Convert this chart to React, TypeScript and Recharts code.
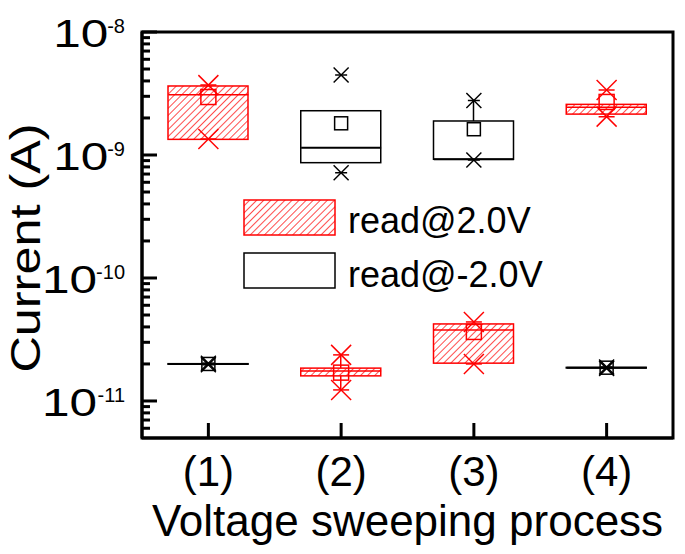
import React from 'react';
import { ComposedChart, Bar, Scatter, XAxis, YAxis, Legend, Label, ReferenceArea } from 'recharts';

const categories = ['(1)', '(2)', '(3)', '(4)'];

// read@2.0V (red, hatched)
const posQ1 = [1.34e-9, 1.6e-11, 2.03e-11, 2.15e-9];
const posQ3 = [3.64e-9, 1.85e-11, 4.23e-11, 2.58e-9];
const posMedian = [3.09e-9, 1.75e-11, 3.78e-11, 2.45e-9];
const posMean = [2.96e-9, 1.7e-11, 3.64e-11, 2.7e-9];
const posMin = [1.35e-9, 1.23e-11, 2.0e-11, 2.05e-9];
const posMax = [3.7e-9, 2.37e-11, 4.39e-11, 3.38e-9];
const posWhiskLow = [1.34e-9, 1.23e-11, 2.03e-11, 2.15e-9];
const posWhiskHigh = [3.64e-9, 2.37e-11, 4.23e-11, 2.58e-9];

// read@-2.0V (black, open)
const negQ1 = [1.99e-11, 8.66e-10, 9.23e-10, 1.855e-11];
const negQ3 = [2.01e-11, 2.29e-9, 1.89e-9, 1.875e-11];
const negMedian = [2.0e-11, 1.146e-9, 9.23e-10, 1.865e-11];
const negMean = [2.0e-11, 1.81e-9, 1.62e-9, 1.865e-11];
const negMin = [1.97e-11, 7.18e-10, 9.1e-10, 1.84e-11];
const negMax = [2.03e-11, 4.47e-9, 2.77e-9, 1.89e-11];
const negWhiskLow = [1.99e-11, 8.66e-10, 9.23e-10, 1.855e-11];
const negWhiskHigh = [2.01e-11, 2.29e-9, 2.77e-9, 1.875e-11];

const majorTicks = [1e-11, 1e-10, 1e-9, 1e-8];
const majorTickExponents = ['-11', '-10', '-9', '-8'];
const minorTicks = [
  6e-12, 7e-12, 8e-12, 9e-12,
  2e-11, 3e-11, 4e-11, 5e-11, 6e-11, 7e-11, 8e-11, 9e-11,
  2e-10, 3e-10, 4e-10, 5e-10, 6e-10, 7e-10, 8e-10, 9e-10,
  2e-9, 3e-9, 4e-9, 5e-9, 6e-9, 7e-9, 8e-9, 9e-9,
];
const yDomain = [5e-12, 1e-8];

const seriesNames = ['read@2.0V', 'read@-2.0V'];

const data = categories.map((cat, i) => ({
  cat,
  posBox: [posQ1[i], posQ3[i]],
  posWLo: [posWhiskLow[i], posQ1[i]],
  posWHi: [posQ3[i], posWhiskHigh[i]],
  posMedian: posMedian[i],
  posMean: posMean[i],
  posMin: posMin[i],
  posMax: posMax[i],
  negBox: [negQ1[i], negQ3[i]],
  negWLo: [negWhiskLow[i], negQ1[i]],
  negWHi: [negQ3[i], negWhiskHigh[i]],
  negMedian: negMedian[i],
  negMean: negMean[i],
  negMin: negMin[i],
  negMax: negMax[i],
}));

const RED = '#ff0000';
const BLACK = '#000000';
const FONT = '"Liberation Sans", Arial, Helvetica, sans-serif';
const BOX_HALF = 40;

const RedBox = (p: any) => (
  <rect x={p.x} y={p.y} width={p.width} height={Math.max(p.height, 0)} fill="url(#hatchRed)" stroke={RED} strokeWidth={1.5} />
);
const BlackBox = (p: any) => (
  <rect x={p.x} y={p.y} width={p.width} height={Math.max(p.height, 0)} fill="#fff" stroke={BLACK} strokeWidth={1.5} />
);
const whisker = (color: string) => (p: any) => {
  if (!p.height || Math.abs(p.height) < 0.5) return <g />;
  const cx = p.x + p.width / 2;
  return <line x1={cx} x2={cx} y1={p.y} y2={p.y + p.height} stroke={color} strokeWidth={1.5} />;
};
const medianShape = (color: string, w: number) => (p: any) => (
  <line x1={p.cx - BOX_HALF} x2={p.cx + BOX_HALF} y1={p.cy} y2={p.cy} stroke={color} strokeWidth={w} />
);
const meanShape = (color: string, s: number) => (p: any) => (
  <rect x={p.cx - s / 2} y={p.cy - s / 2} width={s} height={s} fill="none" stroke={color} strokeWidth={1.5} />
);
const crossShape = (color: string, h: number) => (p: any) => (
  <g stroke={color} strokeWidth={1.5}>
    <line x1={p.cx - h} y1={p.cy - h} x2={p.cx + h} y2={p.cy + h} />
    <line x1={p.cx - h} y1={p.cy + h} x2={p.cx + h} y2={p.cy - h} />
    <line x1={p.cx - h * 0.8} y1={p.cy} x2={p.cx + h * 0.8} y2={p.cy} />
  </g>
);

const SUP_SIZE = 20;
const YTick = (props: any) => {
  const { x, y, payload } = props;
  const idx = majorTicks.indexOf(payload.value);
  const isMajor = idx >= 0;
  let label = null;
  if (isMajor) {
    const exp = majorTickExponents[idx];
    const supW = (0.333 + 0.556 * (exp.length - 1)) * SUP_SIZE - 1;
    const right = x - 17;
    const baseRight = right - supW;
    label = (
      <g fontFamily={FONT} fill={BLACK}>
        <text transform={`translate(${baseRight}, ${y + 15}) scale(1.27, 1)`} x={0} y={0} textAnchor="end" fontSize={39}>
          10
        </text>
        <text x={right} y={y + 1} textAnchor="end" fontSize={SUP_SIZE}>
          {exp}
        </text>
      </g>
    );
  }
  return (
    <g>
      <line x1={x} x2={x + (isMajor ? 15 : 8)} y1={y} y2={y} stroke={BLACK} strokeWidth={3} />
      {label}
    </g>
  );
};

const XTick = (props: any) => {
  const { x, y, payload } = props;
  return (
    <g>
      <line x1={x} x2={x} y1={y} y2={y - 15} stroke={BLACK} strokeWidth={3} />
      <text x={x} y={y + 48} textAnchor="middle" fontFamily={FONT} fontSize={42} fill={BLACK}>
        {payload.value}
      </text>
    </g>
  );
};

const renderLegend = () => (
  <svg width={340} height={100} style={{ display: 'block', overflow: 'visible' }}>
    <defs>
      <pattern id="hatchRedLegend" patternUnits="userSpaceOnUse" width={5} height={5} patternTransform="rotate(45)">
        <line x1={0} y1={0} x2={0} y2={5} stroke={RED} strokeWidth={1.4} />
      </pattern>
    </defs>
    <rect x={4} y={5} width={91} height={35} fill="url(#hatchRedLegend)" stroke={RED} strokeWidth={1.5} />
    <text x={108} y={38} fontFamily={FONT} fontSize={36} fill={BLACK}>{seriesNames[0]}</text>
    <rect x={4} y={58} width={91} height={35} fill="#fff" stroke={BLACK} strokeWidth={1.5} />
    <text x={108} y={92} fontFamily={FONT} fontSize={36} fill={BLACK}>{seriesNames[1]}</text>
  </svg>
);

export default function App() {
  return (
    <div style={{ position: 'absolute', left: 0, top: 0, width: 685, height: 554, background: '#fff' }}>
      <ComposedChart
        width={685}
        height={554}
        data={data}
        margin={{ top: 32, right: 12, left: 0, bottom: 0 }}
        barSize={80}
        barGap={-80}
      >
        <defs>
          <pattern id="hatchRed" patternUnits="userSpaceOnUse" width={5} height={5} patternTransform="rotate(45)">
            <line x1={0} y1={0} x2={0} y2={5} stroke={RED} strokeWidth={1.4} />
          </pattern>
        </defs>
        <XAxis
          dataKey="cat"
          height={116}
          interval={0}
          tickSize={0}
          tickMargin={0}
          tickLine={false}
          tick={XTick}
          axisLine={{ stroke: BLACK, strokeWidth: 3 }}
        >
          <Label
            content={(lp: any) => {
              const vb = lp.viewBox;
              return (
                <text x={vb.x + vb.width / 2} y={vb.y + 98} textAnchor="middle" fontFamily={FONT} fontSize={44} fill={BLACK}>
                  Voltage sweeping process
                </text>
              );
            }}
          />
        </XAxis>
        <YAxis
          type="number"
          scale="log"
          domain={yDomain}
          allowDataOverflow
          ticks={[...majorTicks, ...minorTicks]}
          interval={0}
          width={142}
          tickSize={0}
          tickMargin={0}
          tickLine={false}
          tick={YTick}
          axisLine={{ stroke: BLACK, strokeWidth: 3 }}
        >
          <Label
            content={(lp: any) => {
              const vb = lp.viewBox;
              const cy = vb.y + vb.height / 2 + 13;
              return (
                <text transform={`translate(40, ${cy}) rotate(-90) scale(1.2, 1)`} x={0} y={0} textAnchor="middle" fontFamily={FONT} fontSize={42} fill={BLACK}>
                  Current (A)
                </text>
              );
            }}
          />
        </YAxis>
        <ReferenceArea y1={yDomain[0]} y2={yDomain[1]} fill="none" fillOpacity={0} stroke={BLACK} strokeWidth={3} ifOverflow="visible" />
        <Legend
          layout="horizontal"
          verticalAlign="middle"
          align="center"
          content={renderLegend}
          wrapperStyle={{ left: 240, top: 195, width: 340, height: 100 }}
        />

        <Bar dataKey="posBox" name={seriesNames[0]} shape={RedBox} isAnimationActive={false} />
        <Bar dataKey="negBox" name={seriesNames[1]} shape={BlackBox} isAnimationActive={false} />
        <Bar dataKey="posWLo" shape={whisker(RED)} legendType="none" isAnimationActive={false} />
        <Bar dataKey="posWHi" shape={whisker(RED)} legendType="none" isAnimationActive={false} />
        <Bar dataKey="negWLo" shape={whisker(BLACK)} legendType="none" isAnimationActive={false} />
        <Bar dataKey="negWHi" shape={whisker(BLACK)} legendType="none" isAnimationActive={false} />

        <Scatter dataKey="posMedian" shape={medianShape(RED, 1.5)} legendType="none" isAnimationActive={false} />
        <Scatter dataKey="negMedian" shape={medianShape(BLACK, 2)} legendType="none" isAnimationActive={false} />
        <Scatter dataKey="posMean" shape={meanShape(RED, 15)} legendType="none" isAnimationActive={false} />
        <Scatter dataKey="negMean" shape={meanShape(BLACK, 13)} legendType="none" isAnimationActive={false} />
        <Scatter dataKey="posMin" shape={crossShape(RED, 10)} legendType="none" isAnimationActive={false} />
        <Scatter dataKey="posMax" shape={crossShape(RED, 10)} legendType="none" isAnimationActive={false} />
        <Scatter dataKey="negMin" shape={crossShape(BLACK, 7.5)} legendType="none" isAnimationActive={false} />
        <Scatter dataKey="negMax" shape={crossShape(BLACK, 7.5)} legendType="none" isAnimationActive={false} />
      </ComposedChart>
    </div>
  );
}
